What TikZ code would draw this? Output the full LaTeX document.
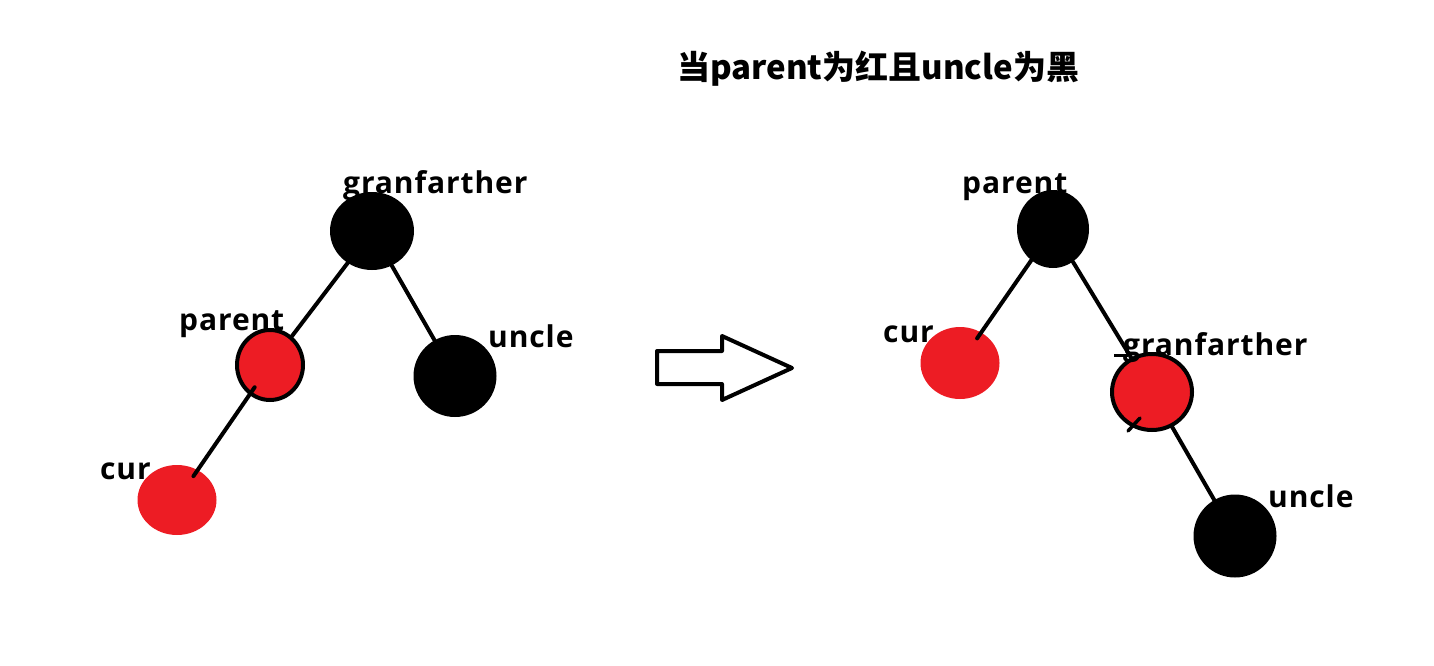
\documentclass[tikz,border=0pt]{standalone}
\usepackage{fontspec}
\usetikzlibrary{shapes.geometric}
\newfontfamily\lblfont{Open Sans}[LetterSpace=3]
\newfontfamily\cjk{Noto Sans CJK SC}
\definecolor{paintred}{RGB}{237,28,36}
\tikzset{
  blk/.style={ellipse,fill=black,inner sep=0pt},
  redn/.style={ellipse,fill=paintred,inner sep=0pt},
  redo/.style={ellipse,fill=paintred,draw=black,line width=4,inner sep=0pt},
  lbl/.style={anchor=base west,inner sep=0pt,font=\lblfont\bfseries\fontsize{30}{32}\selectfont},
  link/.style={line width=4,line cap=round},
}

\begin{document}
\begin{tikzpicture}[x=1pt,y=-1pt]
  \useasboundingbox (0,0) rectangle (1434,666);
  % title
  \node[anchor=base west,inner sep=0pt,font=\cjk\bfseries\fontsize{33}{35}\selectfont] (title) at (677,80) {当parent为红且uncle为黑};
  % before
  \foreach \n/\s/\x/\y/\w/\h in {
    lgf/blk/372/231/84/78,
    lpa/redo/270/365/66/70,
    lun/blk/455/376/83/82,
    lcu/redn/177/500/79/70}
    \node[\s,minimum width=\w,minimum height=\h] (\n) at (\x,\y) {};
  \draw[link] (lgf) -- (lpa);
  \draw[link] (lgf) -- (lun);
  \draw[link,shorten <=27,shorten >=29] (lpa.center) -- (lcu.center);
  \node[lbl] (lgft) at (343,193) {granfarther};
  \node[lbl] (lpat) at (179,330) {parent};
  \node[lbl] (lunt) at (488,347) {uncle};
  \node[lbl] (lcut) at (100,479) {cur};
  % arrow
  \draw[line width=4,line join=round,fill=white] (657,351) -- (722,351) -- (722,336) -- (792,368)
    -- (722,400) -- (722,384) -- (657,384) -- cycle;
  % after
  \foreach \n/\s/\x/\y/\w/\h in {
    rpa/blk/1053/229/72/78,
    rcu/redn/960/363/79/72,
    rgf/redo/1152/392/80/76,
    run/blk/1235/536/83/83}
    \node[\s,minimum width=\w,minimum height=\h] (\n) at (\x,\y) {};
  \draw[link,shorten <=37,shorten >=30] (rpa.center) -- (rcu.center);
  \draw[link] (rpa) -- (rgf);
  \draw[link] (rgf) -- (run);
  \draw[line width=3] (1114,355) -- (1128,355);
  \draw[line width=3.5,line cap=round] (1128,431) -- (1140,418);
  \node[lbl] (rpat) at (962,193) {parent};
  \node[lbl] (rcut) at (883,342) {cur};
  \node[lbl] (rgft) at (1123,355) {granfarther};
  \node[lbl] (runt) at (1268,507) {uncle};
\end{tikzpicture}
\end{document}
